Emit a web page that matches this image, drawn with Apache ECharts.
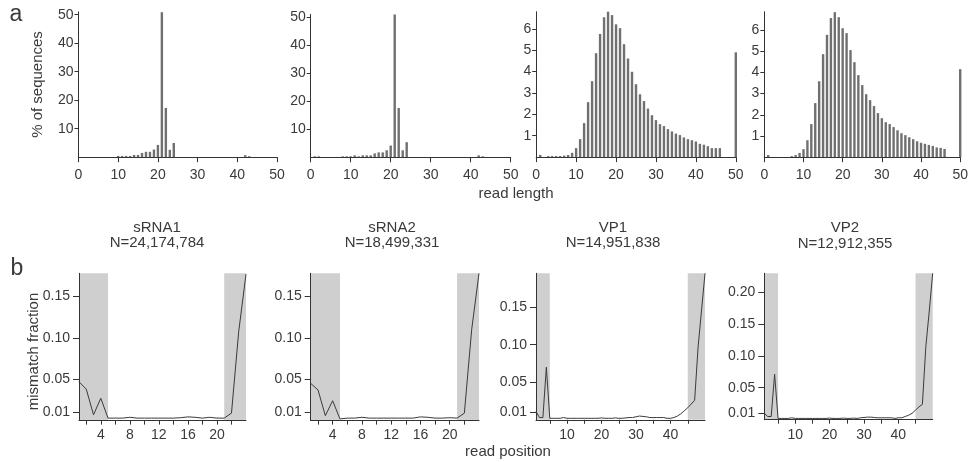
<!DOCTYPE html>
<html>
<head>
<meta charset="utf-8">
<title>read length / mismatch</title>
<script src="https://cdn.jsdelivr.net/npm/echarts@6/dist/echarts.min.js"></script>
<style>
  html, body { margin: 0; padding: 0; background: #fff; }
  #main { width: 971px; height: 462px; }
</style>
</head>
<body>
<div id="main"></div>
<script>
// ---- data ----
// panel a: % of sequences at read length 0..50
var lenTicks = [0, 10, 20, 30, 40, 50];
var sRNA1Len = [0, 0, 0, 0, 0, 0, 0, 0, 0, 0,
  0.45, 0.45, 0.45, 0.45, 0.8, 0.8, 1.5, 1.9, 1.9, 2.7,
  4.3, 50.9, 17.3, 2.6, 5.0, 0, 0, 0, 0, 0,
  0, 0, 0, 0, 0, 0, 0, 0, 0, 0,
  0, 0, 0.7, 0.35, 0, 0, 0, 0, 0, 0, 0];
var sRNA2Len = [0, 0.35, 0.35, 0, 0, 0, 0, 0, 0.35, 0.35,
  0.35, 0.7, 0.35, 0.7, 0.7, 0.7, 1.4, 1.75, 1.75, 2.5,
  4.2, 51, 17.6, 2.5, 5.4, 0, 0, 0, 0, 0,
  0, 0, 0, 0, 0, 0, 0, 0, 0, 0,
  0, 0, 0.7, 0.35, 0, 0, 0, 0, 0, 0, 0];
var vp1Len = [0, 0.1, 0, 0.05, 0.05, 0.05, 0.05, 0.07, 0.1, 0.2,
  0.42, 0.84, 1.59, 2.57, 3.55, 4.86, 5.76, 6.54, 6.82, 6.64,
  6.21, 6.03, 5.28, 4.61, 3.99, 3.41, 2.94, 2.62, 2.27, 1.96,
  1.73, 1.54, 1.45, 1.31, 1.2, 1.1, 1.03, 0.92, 0.84, 0.79,
  0.73, 0.62, 0.58, 0.51, 0.42, 0.42, 0.42, 0, 0, 0, 4.9];
var vp2Len = [0, 0.1, 0, 0, 0, 0, 0, 0.05, 0.1, 0.2,
  0.38, 0.8, 1.56, 2.55, 3.58, 4.86, 5.77, 6.56, 6.84, 6.6,
  6.08, 5.85, 5.05, 4.48, 3.87, 3.4, 2.97, 2.69, 2.41, 2.08,
  1.84, 1.65, 1.56, 1.42, 1.27, 1.13, 1.04, 0.94, 0.85, 0.75,
  0.68, 0.63, 0.58, 0.53, 0.46, 0.44, 0.39, 0, 0, 0, 4.15];

// panel b: mismatch fraction by read position (starting at 1)
var sRNA1Mis = [0.047, 0.038, 0.007, 0.027, 0.003, 0.003, 0.003, 0.004, 0.003, 0.003,
  0.003, 0.003, 0.003, 0.003, 0.0035, 0.0045, 0.004, 0.003, 0.004, 0.003,
  0.003, 0.009, 0.108, 0.177];
var sRNA2Mis = [0.045, 0.037, 0.006, 0.024, 0.002, 0.003, 0.003, 0.004, 0.003, 0.003,
  0.003, 0.003, 0.003, 0.003, 0.003, 0.0045, 0.004, 0.003, 0.003, 0.0035,
  0.003, 0.009, 0.11, 0.178];
var vp1Mis = [0.011, 0.003, 0.003, 0.07, 0.002, 0.002, 0.002, 0.002, 0.003, 0.002,
  0.002, 0.002, 0.002, 0.002, 0.002, 0.002, 0.002, 0.002, 0.002, 0.0025,
  0.002, 0.002, 0.002, 0.0025, 0.002, 0.002, 0.0025, 0.003, 0.003, 0.004,
  0.005, 0.0045, 0.004, 0.003, 0.003, 0.003, 0.003, 0.003, 0.002, 0.002,
  0.003, 0.005, 0.008, 0.012, 0.016, 0.021, 0.026, 0.097, 0.146, 0.195];
var vp2Mis = [0.01, 0.005, 0.005, 0.071, 0.002, 0.002, 0.002, 0.002, 0.003, 0.002,
  0.002, 0.002, 0.002, 0.002, 0.002, 0.002, 0.002, 0.002, 0.002, 0.0025,
  0.002, 0.002, 0.002, 0.0025, 0.002, 0.002, 0.0025, 0.002, 0.003, 0.0035,
  0.004, 0.004, 0.0035, 0.003, 0.003, 0.003, 0.003, 0.003, 0.002, 0.003,
  0.003, 0.005, 0.007, 0.01, 0.015, 0.02, 0.024, 0.114, 0.17, 0.229];

var libNames = ['sRNA1', 'sRNA2', 'VP1', 'VP2'];
var libCounts = ['N=24,174,784', 'N=18,499,331', 'N=14,951,838', 'N=12,912,355'];
var shadeRanges = [[[1, 5], [21, 24]], [[1, 5], [21, 24]], [[1, 5], [45, 50]], [[1, 5], [45, 50]]];
var misTicks24 = [2, 4, 6, 8, 10, 12, 14, 16, 18, 20, 22];
var misLabels24 = [4, 8, 12, 16, 20];
var misTicks50 = [5, 10, 15, 20, 25, 30, 35, 40, 45];
var misLabels50 = [10, 20, 30, 40];

var FONT = "'Liberation Sans', Arial, Helvetica, sans-serif";
var TXT = '#3a3a3a';
var AX = '#333';

var lenSets = [sRNA1Len, sRNA2Len, vp1Len, vp2Len];
var misSets = [sRNA1Mis, sRNA2Mis, vp1Mis, vp2Mis];

// panel boxes (px)
var topBoxes = [
  {left: 78.5, top: 11.9, width: 198.5, height: 145.3, max: 51, ticks: [10, 20, 30, 40, 50]},
  {left: 310.7, top: 14.5, width: 200, height: 142.8, max: 51, ticks: [10, 20, 30, 40, 50]},
  {left: 536.2, top: 11.7, width: 199.6, height: 145.4, max: 6.8, ticks: [1, 2, 3, 4, 5, 6]},
  {left: 764.3, top: 11.7, width: 199.7, height: 145.5, max: 6.86, ticks: [1, 2, 3, 4, 5, 6]}
];
var botBoxes = [
  {left: 79, top: 273.3, width: 167, height: 147.3, max: 0.178, ticks: [0.01, 0.05, 0.10, 0.15]},
  {left: 310.7, top: 273.3, width: 168.3, height: 147.3, max: 0.178, ticks: [0.01, 0.05, 0.10, 0.15]},
  {left: 536, top: 273.3, width: 169, height: 146.5, max: 0.195, ticks: [0.01, 0.05, 0.10, 0.15]},
  {left: 764.3, top: 273.3, width: 168.4, height: 146.4, max: 0.229, ticks: [0.01, 0.05, 0.10, 0.15, 0.20]}
];

var grids = [], xAxes = [], yAxes = [], series = [];

function labelStyle(extra) {
  var s = {color: TXT, fontFamily: FONT, fontSize: 14};
  for (var k in extra) s[k] = extra[k];
  return s;
}

// top row: bar histograms
topBoxes.forEach(function(b, i) {
  grids.push({left: b.left, top: b.top, width: b.width, height: b.height});
  xAxes.push({
    type: 'value', gridIndex: i, min: 0, max: 50, z: 5,
    axisLine: {show: true, lineStyle: {color: AX, width: 1}},
    axisTick: {show: true, length: 5, lineStyle: {color: AX}, customValues: lenTicks},
    axisLabel: labelStyle({margin: 11, customValues: lenTicks}),
    splitLine: {show: false}
  });
  yAxes.push({
    type: 'value', gridIndex: i, min: 0, max: b.max, z: 5,
    axisLine: {show: true, lineStyle: {color: AX, width: 1}},
    axisTick: {show: true, length: 4, lineStyle: {color: AX}, customValues: b.ticks},
    axisLabel: labelStyle({margin: 5, customValues: b.ticks}),
    splitLine: {show: false}
  });
  series.push({
    type: 'bar', xAxisIndex: i, yAxisIndex: i, barWidth: 2.4,
    itemStyle: {color: '#707070'},
    silent: true,
    data: lenSets[i].map(function(v, k) { return [k, v]; })
  });
});

// bottom row: mismatch lines with shaded ends
botBoxes.forEach(function(b, j) {
  var i = j + 4;
  var n = misSets[j].length;
  var tks = n > 30 ? misTicks50 : misTicks24;
  var lbs = n > 30 ? misLabels50 : misLabels24;
  grids.push({left: b.left, top: b.top, width: b.width, height: b.height});
  xAxes.push({
    type: 'value', gridIndex: i, min: 1, max: n, z: 5,
    axisLine: {show: true, lineStyle: {color: AX, width: 1}},
    axisTick: {show: true, length: 4, lineStyle: {color: AX}, customValues: tks},
    axisLabel: labelStyle({margin: 8, customValues: lbs}),
    splitLine: {show: false}
  });
  yAxes.push({
    type: 'value', gridIndex: i, min: 0, max: b.max, z: 5,
    axisLine: {show: true, lineStyle: {color: AX, width: 1}},
    axisTick: {show: true, length: 6, lineStyle: {color: AX}, customValues: b.ticks},
    axisLabel: labelStyle({margin: 9, customValues: b.ticks,
      formatter: function(v) { return v.toFixed(2); }}),
    splitLine: {show: false}
  });
  series.push({
    type: 'line', xAxisIndex: i, yAxisIndex: i, showSymbol: false, silent: true,
    lineStyle: {color: '#3a3a3a', width: 1},
    data: misSets[j].map(function(v, k) { return [k + 1, v]; }),
    markArea: {
      silent: true,
      itemStyle: {color: '#cfcfcf'},
      data: shadeRanges[j].map(function(r) { return [{xAxis: r[0]}, {xAxis: r[1]}]; })
    }
  });
});

// text labels
var titleX = [157, 392, 613, 845];
var texts = [
  {x: 16, y: 15, text: 'a', size: 23},
  {x: 17, y: 269, text: 'b', size: 23},
  {x: 38, y: 84.5, text: '% of sequences', size: 15, rot: true},
  {x: 34, y: 351.5, text: 'mismatch fraction', size: 15, rot: true},
  {x: 516, y: 194, text: 'read length', size: 15},
  {x: 508, y: 452, text: 'read position', size: 15}
];
libNames.forEach(function(nm, k) {
  texts.push({x: titleX[k], y: 228, text: nm, size: 15});
  texts.push({x: titleX[k], y: 242.5 + (k === 3 ? 1 : 0), text: libCounts[k], size: 15});
});
var graphics = texts.map(function(t) {
  return {
    type: 'text', x: t.x, y: t.y, rotation: t.rot ? Math.PI / 2 : 0, silent: true,
    style: {
      text: t.text, fill: TXT, font: t.size + 'px ' + FONT,
      align: 'center', verticalAlign: 'middle',
      textAlign: 'center', textVerticalAlign: 'middle'
    }
  };
});

var chart = echarts.init(document.getElementById('main'), null, {renderer: 'canvas'});
chart.setOption({
  animation: false,
  backgroundColor: '#fff',
  grid: grids,
  xAxis: xAxes,
  yAxis: yAxes,
  series: series,
  graphic: graphics
});
</script>
</body>
</html>
